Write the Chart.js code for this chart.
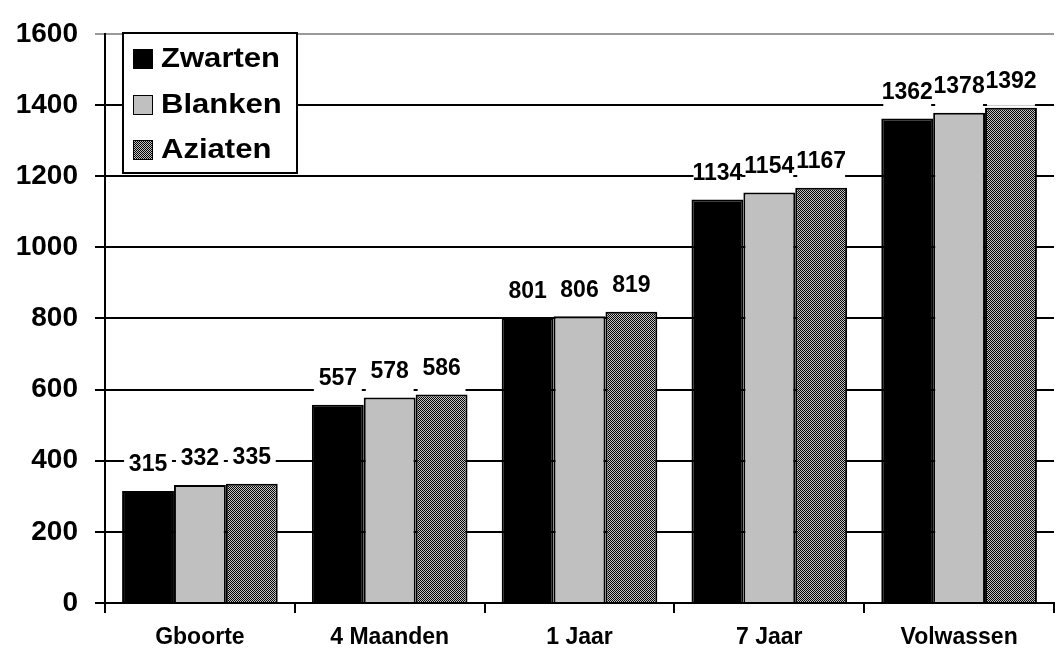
<!DOCTYPE html>
<html>
<head>
<meta charset="utf-8">
<script src="https://cdn.jsdelivr.net/npm/chart.js@4.4.1/dist/chart.umd.min.js"></script>
<style>
  html, body { margin: 0; padding: 0; background: #fff; }
  #wrap { width: 1056px; height: 651px; }
</style>
</head>
<body>
<div id="wrap"><canvas id="chart" width="1056" height="651"></canvas></div>
<script>
const categories = ['Gboorte', '4 Maanden', '1 Jaar', '7 Jaar', 'Volwassen'];
const seriesNames = ['Zwarten', 'Blanken', 'Aziaten'];
const zwarten = [315, 557, 801, 1134, 1362];
const blanken = [332, 578, 806, 1154, 1378];
const aziaten = [335, 586, 819, 1167, 1392];
const yMin = 0;
const yMax = 1600;
const yStep = 200;

const FONT = "'Liberation Sans', Arial, sans-serif";

// fine checker texture for the third series
function makeHatch() {
    const tile = document.createElement('canvas');
    tile.width = 2;
    tile.height = 2;
    const g = tile.getContext('2d');
    g.fillStyle = '#c4c4c4';
    g.fillRect(0, 0, 2, 2);
    g.fillStyle = '#000';
    g.fillRect(0, 0, 1, 1);
    g.fillRect(1, 1, 1, 1);
    return document.createElement('canvas').getContext('2d').createPattern(tile, 'repeat');
}
const hatch = makeHatch();
const fills = ['#000000', '#c0c0c0', hatch];

const valueLabels = {
    id: 'valueLabels',
    afterDatasetsDraw(chart) {
        const ctx = chart.ctx;
        const items = [];
        chart.data.datasets.forEach((ds, i) => {
            chart.getDatasetMeta(i).data.forEach((bar, j) => {
                items.push({ x: bar.x, y: bar.y, w: bar.width, v: ds.data[j] });
            });
        });
        ctx.save();
        ctx.fillStyle = '#fff';
        items.forEach(it => {
            const cy = it.y - 27;
            const w = it.w - 4;
            ctx.fillRect(it.x - w / 2, cy - 13, w, it.y - 2 - (cy - 13));
        });
        ctx.fillStyle = '#000';
        ctx.font = 'bold 23px ' + FONT;
        ctx.textAlign = 'center';
        ctx.textBaseline = 'middle';
        items.forEach(it => ctx.fillText(String(it.v), it.x, it.y - 26));
        ctx.restore();
    }
};

const boxLegend = {
    id: 'boxLegend',
    afterDraw(chart) {
        const ctx = chart.ctx;
        ctx.save();
        ctx.fillStyle = '#fff';
        ctx.fillRect(123, 33, 174, 140);
        ctx.strokeStyle = '#000';
        ctx.lineWidth = 2;
        ctx.strokeRect(123, 33, 174, 140);
        const rows = [59, 105, 150];
        chart.data.datasets.forEach((ds, i) => {
            const cy = rows[i];
            ctx.fillStyle = ds.backgroundColor;
            ctx.fillRect(133, cy - 10, 20, 20);
            ctx.lineWidth = 1;
            ctx.strokeRect(133.5, cy - 9.5, 19, 19);
            ctx.save();
            ctx.translate(161, cy + 1);
            ctx.scale(1.15, 1);
            ctx.fillStyle = '#000';
            ctx.font = 'bold 27px ' + FONT;
            ctx.textBaseline = 'middle';
            ctx.fillText(ds.label, 0, 0);
            ctx.restore();
        });
        ctx.restore();
    }
};

const ctx = document.getElementById('chart').getContext('2d');
new Chart(ctx, {
    type: 'bar',
    data: {
        labels: categories,
        datasets: [zwarten, blanken, aziaten].map((d, i) => ({
            label: seriesNames[i],
            data: d,
            backgroundColor: fills[i],
            borderColor: '#000',
            borderWidth: 2,
            categoryPercentage: 0.82,
            barPercentage: 1.0
        }))
    },
    options: {
        responsive: false,
        animation: false,
        layout: { padding: { top: 28, right: 2, left: 0, bottom: 0 } },
        plugins: {
            legend: { display: false },
            tooltip: { enabled: false }
        },
        scales: {
            x: {
                grid: {
                    offset: true,
                    drawOnChartArea: false,
                    drawTicks: true,
                    tickLength: 10,
                    color: '#000',
                    lineWidth: 2
                },
                border: { display: true, color: '#000', width: 2 },
                ticks: {
                    color: '#000',
                    padding: 11,
                    font: { family: FONT, size: 23, weight: 'bold' }
                },
                afterFit: s => { s.height = 48; }
            },
            y: {
                min: yMin,
                max: yMax,
                ticks: {
                    stepSize: yStep,
                    color: '#000',
                    padding: 17,
                    font: { family: FONT, size: 28, weight: 'bold' },
                    callback: v => String(v)
                },
                grid: {
                    color: c => (c.tick && c.tick.value === yMax) ? '#9a9a9a' : '#000',
                    lineWidth: 2,
                    tickLength: 10,
                    drawTicks: true
                },
                border: { display: true, color: '#000', width: 2 },
                afterFit: s => { s.width = 105; }
            }
        }
    },
    plugins: [valueLabels, boxLegend]
});
</script>
</body>
</html>
